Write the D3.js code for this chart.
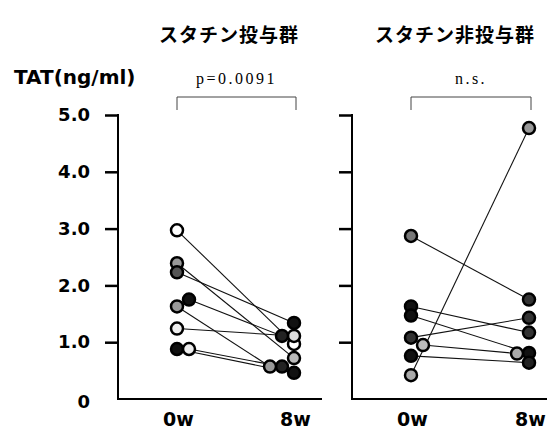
<!DOCTYPE html>
<html>
<head>
<meta charset="utf-8">
<script src="https://cdn.jsdelivr.net/npm/d3@7"></script>
<style>
  body { margin: 0; background: #fff; }
  svg { display: block; }
</style>
</head>
<body>
<div class="chart"></div>
<script>
// data
var groups = ["スタチン投与群", "スタチン非投与群"];
var pLabels = ["p=0.0091", "n.s."];
var times = ["0w", "8w"];
var yTicks = [0, 1, 2, 3, 4, 5];

// statin group, subject by subject
var statin0w = [2.97, 2.39, 2.23, 1.24, 0.88, 0.88, 1.63, 1.75];
var statin8w = [0.97, 0.72, 1.34, 1.11, 0.46, 0.57, 0.57, 1.11];
var statinFill0 = ["#fff", "#9a9a9a", "#555", "#eee", "#111", "#eee", "#999", "#111"];
var statinFill8 = ["#fff", "#bbb", "#111", "#ddd", "#111", "#222", "#999", "#222"];

// non-statin group
var nonStatin0w = [2.87, 1.63, 1.47, 1.08, 0.95, 0.76, 0.42];
var nonStatin8w = [1.75, 1.17, 0.81, 1.43, 0.80, 0.64, 4.77];
var nonFill0 = ["#777", "#111", "#111", "#333", "#bbb", "#111", "#aaa"];
var nonFill8 = ["#333", "#333", "#111", "#333", "#aaa", "#222", "#999"];

var svgWidth = 547;
var svgHeight = 434;

var svg = d3.select(".chart")
  .append("svg")
  .attr("width", svgWidth)
  .attr("height", svgHeight);

var jp = "'Noto Sans CJK JP', sans-serif";
var sans = "'DejaVu Sans', sans-serif";
var serif = "'Liberation Serif', 'Times New Roman', serif";

var y = d3.scaleLinear().domain([0, 5]).range([399, 115]);

var panels = [
  { axisX: 118, xEnd: 322, x: d3.scalePoint().domain(times).range([177, 294]),
    v0: statin0w, v8: statin8w, f0: statinFill0, f8: statinFill8, labels: true },
  { axisX: 352, xEnd: 547, x: d3.scalePoint().domain(times).range([411, 529]),
    v0: nonStatin0w, v8: nonStatin8w, f0: nonFill0, f8: nonFill8, labels: false }
];

// simple dodge so overlapping points sit side by side
function dodge(vals, dir) {
  var placed = [];
  return vals.map(function(v) {
    var py = y(v);
    var k = 0;
    while (placed.some(function(p) {
      var dx = p.dx - k * 12 * dir, dy = p.y - py;
      return Math.sqrt(dx * dx + dy * dy) < 7.5;
    })) { k++; }
    placed.push({ dx: k * 12 * dir, y: py });
    return k * 12 * dir;
  });
}

// group titles
svg.selectAll(".title")
  .data(groups)
  .enter()
  .append("text")
  .attr("x", (d, i) => i == 0 ? 229 : 455)
  .attr("y", 42)
  .attr("text-anchor", "middle")
  .style("font-family", jp)
  .style("font-weight", "bold")
  .style("font-size", "19px")
  .style("letter-spacing", "1px")
  .text(d => d);

svg.append("text")
  .attr("x", 14)
  .attr("y", 84)
  .style("font-family", sans)
  .style("font-weight", "bold")
  .style("font-size", "20px")
  .text("TAT(ng/ml)");

panels.forEach(function(p, i) {
  var g = svg.append("g");

  // y axis
  var leftAxis = d3.axisLeft(y)
    .tickValues(yTicks)
    .tickSize(13)
    .tickPadding(15)
    .tickFormat(d => p.labels ? (d == 0 ? "0" : d.toFixed(1)) : "");

  var ax = g.append("g")
    .attr("transform", `translate(${p.axisX},0)`)
    .call(leftAxis);
  ax.select(".domain").remove();
  ax.selectAll(".tick line")
    .attr("stroke", "#000")
    .attr("stroke-width", 2.5);
  ax.selectAll(".tick").filter(d => d == 0).select("line").remove();
  ax.selectAll("text")
    .style("font-family", sans)
    .style("font-weight", "bold")
    .style("font-size", "18px")
    .attr("fill", "#000");
  ax.selectAll(".tick").filter(d => d == 0).select("text").attr("dy", "0.45em");

  g.append("line")
    .attr("x1", p.axisX).attr("x2", p.axisX)
    .attr("y1", y(5) - 1).attr("y2", y(0) + 1)
    .attr("stroke", "#000").attr("stroke-width", 2);

  // x axis
  g.append("line")
    .attr("x1", p.axisX).attr("x2", p.xEnd)
    .attr("y1", y(0)).attr("y2", y(0))
    .attr("stroke", "#000").attr("stroke-width", 2);

  var bottomAxis = d3.axisBottom(p.x).tickSize(0).tickPadding(14);
  var xa = g.append("g")
    .attr("transform", `translate(1,${y(0)})`)
    .call(bottomAxis);
  xa.select(".domain").remove();
  xa.selectAll("text")
    .style("font-family", sans)
    .style("font-weight", "bold")
    .style("font-size", "19px")
    .attr("fill", "#000");

  // significance bracket
  var bx0 = p.x("0w"), bx1 = p.x("8w") + 2;
  g.append("path")
    .attr("d", `M${bx0},110V97H${bx1}V110`)
    .attr("fill", "none")
    .attr("stroke", "#444")
    .attr("stroke-width", 1);
  g.append("text")
    .attr("x", (bx0 + bx1) / 2)
    .attr("y", 84)
    .attr("text-anchor", "middle")
    .style("font-family", serif)
    .style("font-size", "16px")
    .style("letter-spacing", "2.5px")
    .text(pLabels[i]);

  var dx0 = dodge(p.v0, 1);
  var dx8 = dodge(p.v8, -1);

  var pairs = p.v0.map((v, j) => ({
    x0: p.x("0w") + dx0[j], y0: y(v),
    x8: p.x("8w") + dx8[j], y8: y(p.v8[j]),
    f0: p.f0[j], f8: p.f8[j]
  }));

  g.selectAll(".link")
    .data(pairs)
    .enter()
    .append("line")
    .attr("x1", d => d.x0).attr("y1", d => d.y0)
    .attr("x2", d => d.x8).attr("y2", d => d.y8)
    .attr("stroke", "#111")
    .attr("stroke-width", 1.1);

  var pts = [];
  pairs.forEach(d => {
    pts.push({ x: d.x0, y: d.y0, f: d.f0 });
    pts.push({ x: d.x8, y: d.y8, f: d.f8 });
  });

  g.selectAll(".pt")
    .data(pts)
    .enter()
    .append("circle")
    .attr("cx", d => d.x)
    .attr("cy", d => d.y)
    .attr("r", 6)
    .attr("fill", d => d.f)
    .attr("stroke", "#000")
    .attr("stroke-width", 2.5);
});
</script>
</body>
</html>
